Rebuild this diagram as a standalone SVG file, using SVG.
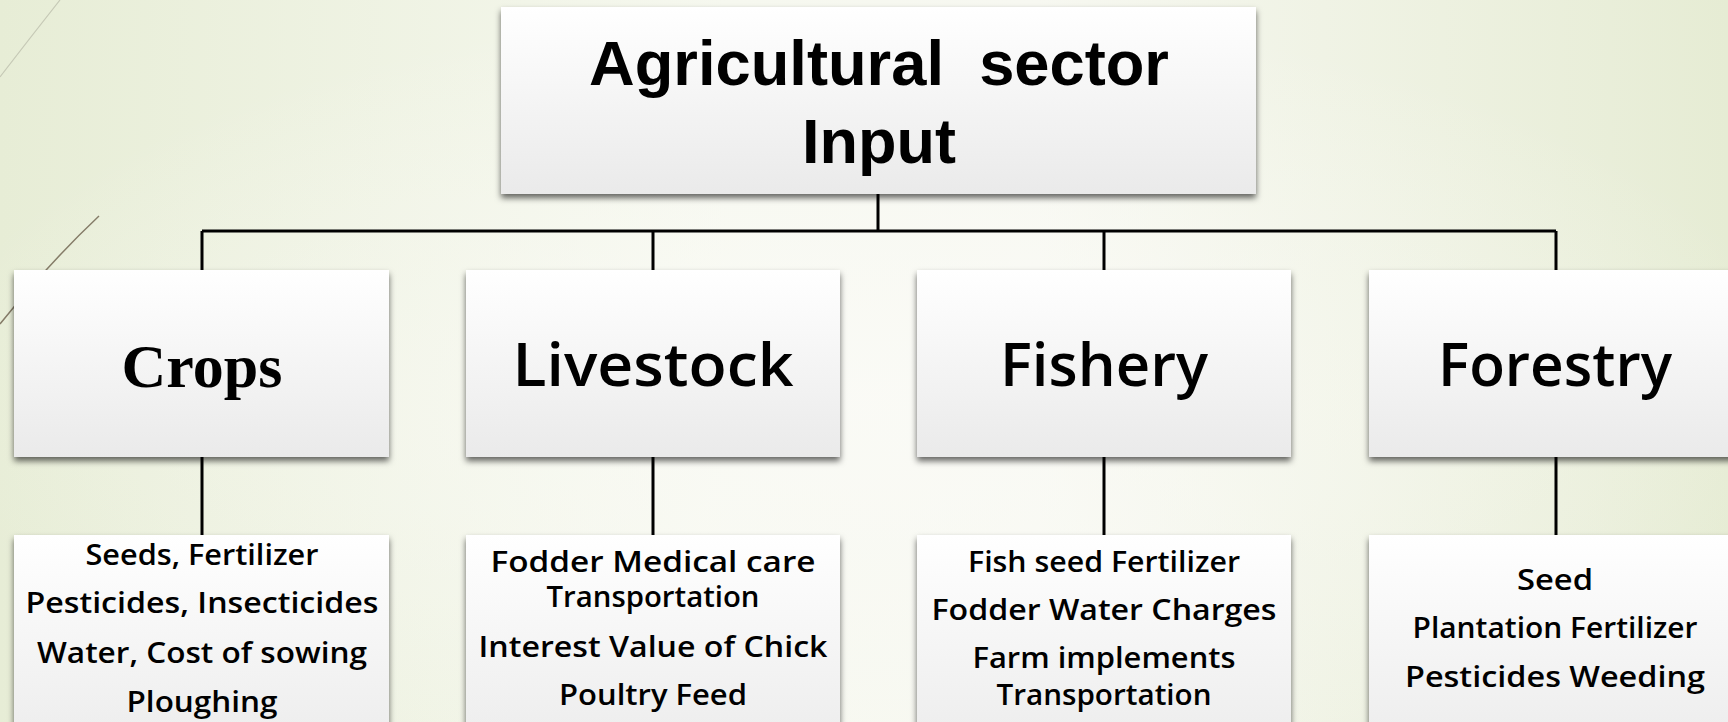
<svg xmlns="http://www.w3.org/2000/svg" width="1728" height="722" viewBox="0 0 1728 722">
  <defs>
    <linearGradient id="bg" x1="0" y1="0" x2="1" y2="0">
      <stop offset="0" stop-color="#e7edd6"/>
      <stop offset="0.42" stop-color="#f6f8ef"/>
      <stop offset="0.6" stop-color="#f7f8f1"/>
      <stop offset="1" stop-color="#e6ecd4"/>
    </linearGradient>
    <radialGradient id="glow" cx="0.5" cy="0.55" r="0.55">
      <stop offset="0" stop-color="#fbfbf7" stop-opacity="0.8"/>
      <stop offset="1" stop-color="#fbfbf7" stop-opacity="0"/>
    </radialGradient>
    <linearGradient id="boxFill" x1="0" y1="0" x2="0" y2="1">
      <stop offset="0" stop-color="#ffffff"/>
      <stop offset="1" stop-color="#eaeaea"/>
    </linearGradient>
    <filter id="shadow" x="-5%" y="-5%" width="110%" height="115%">
      <feDropShadow dx="0" dy="4" stdDeviation="3" flood-color="#000" flood-opacity="0.6"/>
    </filter>
    <style>
      .box { fill: url(#boxFill); filter: url(#shadow); }
      .title { font-family: "Liberation Sans", Arial, sans-serif; font-weight: 700; font-size: 63px; fill: #000; text-anchor: middle; white-space: pre; }
      .serif { font-family: "Liberation Serif", "Times New Roman", serif; font-weight: 700; font-size: 62px; fill: #000; text-anchor: middle; }
      .head { font-family: "Open Sans", "DejaVu Sans", sans-serif; font-weight: 600; font-size: 59px; fill: #000; text-anchor: middle; }
      .item { font-family: "Open Sans", "DejaVu Sans", sans-serif; font-weight: 600; font-size: 28px; fill: #000; text-anchor: middle; }
      .link { stroke: #000; stroke-width: 3; fill: none; }
    </style>
  </defs>

  <!-- background -->
  <rect width="1728" height="722" fill="url(#bg)"/>
  <rect width="1728" height="722" fill="url(#glow)"/>
  <path d="M0,77 Q30,38 60,0" stroke="#c6c9b6" stroke-width="1.2" fill="none"/>
  <path d="M99,216 Q50,262 0,324" stroke="#857c68" stroke-width="1.5" fill="none"/>

  <!-- connectors -->
  <g id="connectors">
    <path class="link" d="M878,194 V231"/>
    <path class="link" d="M202,231 H1556"/>
    <path class="link" d="M202,231 V270 M653,231 V270 M1104,231 V270 M1556,231 V270"/>
    <path class="link" d="M202,457 V535 M653,457 V535 M1104,457 V535 M1556,457 V535"/>
  </g>

  <!-- root -->
  <g id="root">
    <rect class="box" x="501" y="7" width="755" height="187"/>
    <text class="title" x="879" y="85" textLength="580" lengthAdjust="spacingAndGlyphs">Agricultural  sector</text>
    <text class="title" x="879" y="163">Input</text>
  </g>

  <!-- sectors -->
  <g id="crops">
    <rect class="box" x="14" y="270" width="375" height="187"/>
    <text class="serif" x="202" y="387">Crops</text>
  </g>
  <g id="livestock">
    <rect class="box" x="466" y="270" width="374" height="187"/>
    <text class="head" x="653" y="386" textLength="281" lengthAdjust="spacingAndGlyphs">Livestock</text>
  </g>
  <g id="fishery">
    <rect class="box" x="917" y="270" width="374" height="187"/>
    <text class="head" x="1104" y="386" textLength="208" lengthAdjust="spacingAndGlyphs">Fishery</text>
  </g>
  <g id="forestry">
    <rect class="box" x="1369" y="270" width="375" height="187"/>
    <text class="head" x="1555" y="386" textLength="234" lengthAdjust="spacingAndGlyphs">Forestry</text>
  </g>

  <!-- input lists -->
  <g id="crops-inputs">
    <rect class="box" x="14" y="535" width="375" height="235"/>
    <text class="item" x="202" y="565" textLength="233" lengthAdjust="spacingAndGlyphs">Seeds, Fertilizer</text>
    <text class="item" x="202" y="613" textLength="353" lengthAdjust="spacingAndGlyphs">Pesticides, Insecticides</text>
    <text class="item" x="202" y="663" textLength="330" lengthAdjust="spacingAndGlyphs">Water, Cost of sowing</text>
    <text class="item" x="202" y="712" textLength="151" lengthAdjust="spacingAndGlyphs">Ploughing</text>
  </g>
  <g id="livestock-inputs">
    <rect class="box" x="466" y="535" width="374" height="235"/>
    <text class="item" x="653" y="572" textLength="325" lengthAdjust="spacingAndGlyphs">Fodder Medical care</text>
    <text class="item" x="653" y="607" textLength="213" lengthAdjust="spacingAndGlyphs">Transportation</text>
    <text class="item" x="653" y="657" textLength="349" lengthAdjust="spacingAndGlyphs">Interest Value of Chick</text>
    <text class="item" x="653" y="705" textLength="188" lengthAdjust="spacingAndGlyphs">Poultry Feed</text>
  </g>
  <g id="fishery-inputs">
    <rect class="box" x="917" y="535" width="374" height="235"/>
    <text class="item" x="1104" y="572" textLength="272" lengthAdjust="spacingAndGlyphs">Fish seed Fertilizer</text>
    <text class="item" x="1104" y="620" textLength="345" lengthAdjust="spacingAndGlyphs">Fodder Water Charges</text>
    <text class="item" x="1104" y="668" textLength="263" lengthAdjust="spacingAndGlyphs">Farm implements</text>
    <text class="item" x="1104" y="705" textLength="215" lengthAdjust="spacingAndGlyphs">Transportation</text>
  </g>
  <g id="forestry-inputs">
    <rect class="box" x="1369" y="535" width="375" height="235"/>
    <text class="item" x="1555" y="590" textLength="76" lengthAdjust="spacingAndGlyphs">Seed</text>
    <text class="item" x="1555" y="638" textLength="285" lengthAdjust="spacingAndGlyphs">Plantation Fertilizer</text>
    <text class="item" x="1555" y="687" textLength="300" lengthAdjust="spacingAndGlyphs">Pesticides Weeding</text>
  </g>
</svg>
